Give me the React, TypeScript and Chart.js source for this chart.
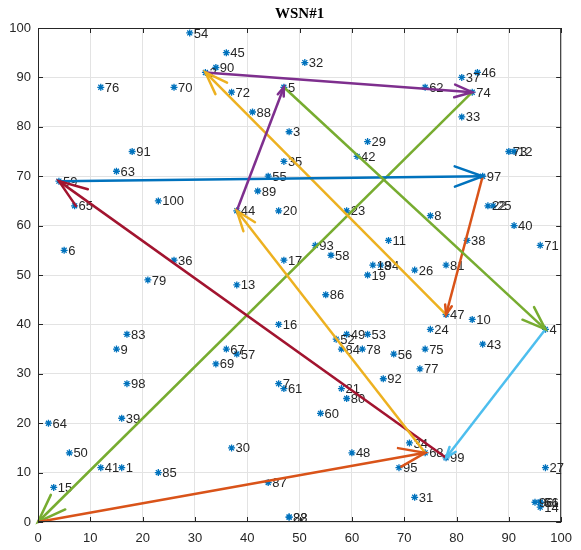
import React, { useEffect, useRef } from "react";
import { Chart, registerables } from "chart.js";

Chart.register(...registerables);

const titleText = "WSN#1";

const nodeIds = [
  1, 2, 3, 4, 5, 6, 7, 8, 9, 10,
  11, 12, 13, 14, 15, 16, 17, 18, 19, 20,
  21, 22, 23, 24, 25, 26, 27, 28, 29, 30,
  31, 32, 33, 34, 35, 36, 37, 38, 39, 40,
  41, 42, 43, 44, 45, 46, 47, 48, 49, 50,
  51, 52, 53, 54, 55, 56, 57, 58, 59, 60,
  61, 62, 63, 64, 65, 66, 67, 68, 69, 70,
  71, 72, 73, 74, 75, 76, 77, 78, 79, 80,
  81, 82, 83, 84, 85, 86, 87, 88, 89, 90,
  91, 92, 93, 94, 95, 96, 97, 98, 99, 100,
];
const nodeX = [
  16, 32, 48, 97, 47, 5, 46, 75, 15, 83,
  67, 91, 38, 96, 3, 46, 47, 64, 63, 46,
  58, 86, 59, 75, 87, 72, 97, 48, 63, 37,
  72, 51, 81, 71, 47, 26, 81, 82, 16, 91,
  12, 61, 85, 38, 36, 84, 78, 60, 59, 6,
  96, 57, 63, 29, 44, 68, 38, 56, 4, 54,
  47, 74, 15, 2, 7, 96, 36, 74, 34, 26,
  96, 37, 90, 83, 74, 12, 73, 62, 21, 59,
  78, 48, 17, 58, 23, 55, 44, 41, 42, 34,
  18, 66, 53, 65.5, 69, 95, 85, 17, 78, 23,
];
const nodeY = [
  11, 91, 79, 39, 88, 55, 28, 62, 35, 41,
  57, 75, 48, 3, 7, 40, 53, 52, 50, 63,
  27, 64, 63, 39, 64, 51, 11, 1, 77, 15,
  5, 93, 82, 16, 73, 53, 90, 57, 21, 60,
  11, 74, 36, 63, 95, 91, 42, 14, 38, 14,
  4, 37, 38, 99, 70, 34, 34, 54, 69, 22,
  27, 88, 71, 20, 64, 4, 35, 14, 32, 88,
  56, 87, 75, 87, 35, 88, 31, 35, 49, 25,
  52, 1, 38, 35, 10, 46, 8, 83, 67, 92,
  75, 29, 56, 52, 11, 4, 70, 28, 13, 65,
];

// Tour: base (0,0) -> 68 -> 44 -> 5 -> 4 -> 99 -> 59 -> 97 -> 47 -> 2 -> 74 -> base
const routeX = [0, 74, 38, 47, 97, 78, 4, 85, 78, 32, 83, 0];
const routeY = [0, 14, 63, 88, 39, 13, 69, 70, 42, 91, 87, 0];
const routeColors = [
  "#D95319", "#EDB120", "#7E2F8E", "#77AC30", "#4DBEEE", "#A2142F",
  "#0072BD", "#D95319", "#EDB120", "#7E2F8E", "#77AC30",
];

const xTicks = [0, 10, 20, 30, 40, 50, 60, 70, 80, 90, 100];
const yTicks = [0, 10, 20, 30, 40, 50, 60, 70, 80, 90, 100];

const TEXT = "#262626";
const FONT = "'Liberation Sans', Arial, sans-serif";

const labelPlugin = {
  id: "nodeLabels",
  afterDatasetDraw(chart: any, args: any) {
    if (args.index !== 0) return;
    const ctx = chart.ctx;
    const meta = chart.getDatasetMeta(0);
    ctx.save();
    ctx.font = `13px ${FONT}`;
    ctx.fillStyle = TEXT;
    ctx.textAlign = "left";
    ctx.textBaseline = "middle";
    meta.data.forEach((pt: any, i: number) => {
      ctx.fillText(String(nodeIds[i]), pt.x + 4, pt.y + 1);
    });
    ctx.restore();
  },
};

const arrowPlugin = {
  id: "arrowHeads",
  afterDatasetDraw(chart: any, args: any) {
    const ds: any = chart.data.datasets[args.index];
    if (!ds.isArrow) return;
    const pts = args.meta.data;
    if (pts.length < 2) return;
    const a = pts[0];
    const b = pts[1];
    const dx = b.x - a.x;
    const dy = b.y - a.y;
    const len = Math.sqrt(dx * dx + dy * dy);
    const hl = Math.min(30, len * 0.07);
    const ang = Math.atan2(dy, dx);
    const spread = (20 * Math.PI) / 180;
    const ctx = chart.ctx;
    ctx.save();
    ctx.strokeStyle = ds.borderColor;
    ctx.lineWidth = ds.borderWidth;
    ctx.lineCap = "round";
    ctx.beginPath();
    ctx.moveTo(b.x - hl * Math.cos(ang - spread), b.y - hl * Math.sin(ang - spread));
    ctx.lineTo(b.x, b.y);
    ctx.lineTo(b.x - hl * Math.cos(ang + spread), b.y - hl * Math.sin(ang + spread));
    ctx.stroke();
    ctx.restore();
  },
};

const framePlugin = {
  id: "frameAndTitle",
  afterDraw(chart: any) {
    const ctx = chart.ctx;
    const { left, right, top, bottom } = chart.chartArea;
    const xs = chart.scales.x;
    const ys = chart.scales.y;
    ctx.save();
    ctx.strokeStyle = TEXT;
    ctx.lineWidth = 1;
    ctx.strokeRect(left + 0.5, top + 0.5, right - left - 1, bottom - top - 1);
    ctx.beginPath();
    const tl = 5;
    xTicks.forEach((v) => {
      const px = Math.round(xs.getPixelForValue(v)) + 0.5;
      ctx.moveTo(px, bottom);
      ctx.lineTo(px, bottom - tl);
      ctx.moveTo(px, top);
      ctx.lineTo(px, top + tl);
    });
    yTicks.forEach((v) => {
      const py = Math.round(ys.getPixelForValue(v)) + 0.5;
      ctx.moveTo(left, py);
      ctx.lineTo(left + tl, py);
      ctx.moveTo(right, py);
      ctx.lineTo(right - tl, py);
    });
    ctx.stroke();
    ctx.fillStyle = "#000";
    ctx.font = `bold 15px 'Liberation Serif', 'Times New Roman', serif`;
    ctx.textAlign = "center";
    ctx.textBaseline = "middle";
    ctx.fillText(titleText, (left + right) / 2, 14);
    ctx.restore();
  },
};

export default function App() {
  const ref = useRef<HTMLCanvasElement | null>(null);

  useEffect(() => {
    if (!ref.current) return;
    const nodes = nodeX.map((x, i) => ({ x, y: nodeY[i] }));
    const arrowSets = routeColors.map((c, i) => ({
      type: "scatter" as const,
      data: [
        { x: routeX[i], y: routeY[i] },
        { x: routeX[i + 1], y: routeY[i + 1] },
      ],
      showLine: true,
      borderColor: c,
      backgroundColor: c,
      borderWidth: 2.5,
      pointRadius: 0,
      pointHoverRadius: 0,
      clip: false,
      order: 1,
      isArrow: true,
    }));

    const chart = new Chart(ref.current, {
      type: "scatter",
      data: {
        datasets: [
          {
            data: nodes,
            pointStyle: "star",
            pointRadius: 3.5,
            borderColor: "#0072BD",
            backgroundColor: "#0072BD",
            borderWidth: 1.3,
            showLine: false,
            order: 10,
          } as any,
          ...(arrowSets as any[]),
        ],
      },
      options: {
        animation: false,
        responsive: false,
        events: [],
        layout: { padding: { top: 28, right: 18, bottom: 0, left: 0 } },
        plugins: {
          legend: { display: false },
          tooltip: { enabled: false },
          title: { display: false },
        },
        scales: {
          x: {
            type: "linear",
            min: 0,
            max: 100,
            afterBuildTicks: (s: any) => {
              s.ticks = xTicks.map((v) => ({ value: v }));
            },
            afterFit: (s: any) => {
              s.height = 28;
            },
            grid: { color: "#e3e3e3", drawTicks: false, lineWidth: 1 },
            border: { display: false },
            ticks: {
              color: TEXT,
              font: { family: FONT, size: 13 },
              padding: 9,
              maxRotation: 0,
              autoSkip: false,
            },
          },
          y: {
            type: "linear",
            min: 0,
            max: 100,
            afterBuildTicks: (s: any) => {
              s.ticks = yTicks.map((v) => ({ value: v }));
            },
            afterFit: (s: any) => {
              s.width = 38;
            },
            grid: { color: "#e3e3e3", drawTicks: false, lineWidth: 1 },
            border: { display: false },
            ticks: {
              color: TEXT,
              font: { family: FONT, size: 13 },
              padding: 7,
              autoSkip: false,
            },
          },
        },
      },
      plugins: [labelPlugin, arrowPlugin, framePlugin],
    } as any);

    return () => chart.destroy();
  }, []);

  return (
    <div style={{ position: "fixed", left: 0, top: 0, width: 581, height: 550, background: "#fff" }}>
      <canvas ref={ref} width={581} height={550} style={{ width: 581, height: 550 }} />
    </div>
  );
}
